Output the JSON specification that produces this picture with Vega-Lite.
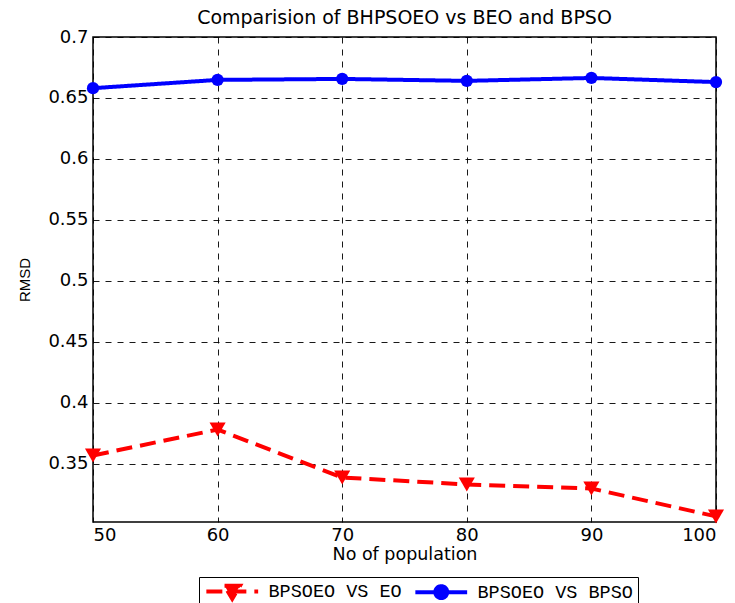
{
  "$schema": "https://vega.github.io/schema/vega-lite/v6.json",
  "width": 623,
  "height": 485,
  "autosize": {"type": "none"},
  "padding": {"left": 93, "top": 37, "right": 19, "bottom": 81},
  "background": "white",
  "title": {"text": "Comparision of BHPSOEO vs BEO and BPSO", "font": "DejaVu Sans", "fontSize": 19, "fontWeight": "normal", "color": "black", "offset": 0},
  "config": {
    "view": {"stroke": "black", "strokeWidth": 1.5},
    "axis": {
      "domain": false, "ticks": false,
      "grid": true, "gridColor": "black", "gridDash": [6, 6], "gridOpacity": 0.9, "gridWidth": 1,
      "labelFont": "DejaVu Sans", "labelFontSize": 18, "labelColor": "black",
      "titleFont": "DejaVu Sans", "titleFontWeight": "normal", "titleColor": "black"
    }
  },
  "data": {"values": [
    {"population": 50, "rmsd": 0.3566, "series": "BPSOEO VS EO"},
    {"population": 60, "rmsd": 0.3779, "series": "BPSOEO VS EO"},
    {"population": 70, "rmsd": 0.3385, "series": "BPSOEO VS EO"},
    {"population": 80, "rmsd": 0.3328, "series": "BPSOEO VS EO"},
    {"population": 90, "rmsd": 0.3295, "series": "BPSOEO VS EO"},
    {"population": 100, "rmsd": 0.3066, "series": "BPSOEO VS EO"},
    {"population": 50, "rmsd": 0.658, "series": "BPSOEO VS BPSO"},
    {"population": 60, "rmsd": 0.6648, "series": "BPSOEO VS BPSO"},
    {"population": 70, "rmsd": 0.6656, "series": "BPSOEO VS BPSO"},
    {"population": 80, "rmsd": 0.664, "series": "BPSOEO VS BPSO"},
    {"population": 90, "rmsd": 0.6664, "series": "BPSOEO VS BPSO"},
    {"population": 100, "rmsd": 0.663, "series": "BPSOEO VS BPSO"}
  ]},
  "encoding": {
    "x": {"field": "population", "type": "quantitative", "scale": {"domain": [50, 100], "nice": false, "zero": false},
      "axis": {"values": [50, 60, 70, 80, 90, 100], "title": "No of population", "titleFontSize": 17.5, "labelPadding": 4, "titlePadding": 1}},
    "y": {"field": "rmsd", "type": "quantitative", "scale": {"domain": [0.302, 0.7], "nice": false, "zero": false},
      "axis": {"values": [0.35, 0.4, 0.45, 0.5, 0.55, 0.6, 0.65, 0.7], "format": "~g", "title": "RMSD", "titleFont": "Liberation Sans", "titleFontSize": 15, "labelPadding": 5, "titlePadding": 15}},
    "color": {"field": "series", "type": "nominal",
      "scale": {"domain": ["BPSOEO VS EO", "BPSOEO VS BPSO"], "range": ["#ff0000", "#0000ff"]},
      "legend": {
        "title": null, "orient": "none", "legendX": 106, "legendY": 540, "direction": "horizontal",
        "strokeColor": "black", "padding": 5, "fillColor": "white",
        "labelFont": "Liberation Mono", "labelFontSize": 18.5, "labelColor": "black", "labelOffset": 27,
        "columnPadding": 5, "symbolSize": 196, "symbolOffset": 19, "symbolStrokeWidth": 4,
        "encode": {
          "symbols": {"update": {
            "shape": {"signal": "datum.value === 'BPSOEO VS EO' ? 'M-3.7,0L3.7,0M-1.1,-0.8L1.1,-0.8L0,1.05Z' : 'M-3.7,0L3.7,0M0.85,0A0.85,0.85 0 1,1 -0.85,0A0.85,0.85 0 1,1 0.85,0Z'"},
            "strokeDash": {"signal": "datum.value === 'BPSOEO VS EO' ? [16,5] : [1,0]"},
            "fill": {"scale": "color", "field": "value"},
            "stroke": {"scale": "color", "field": "value"},
            "opacity": {"value": 1}
          }}
        }
      }
    }
  },
  "layer": [
    {"mark": {"type": "line", "strokeWidth": 4},
      "encoding": {"strokeDash": {"field": "series", "type": "nominal", "scale": {"domain": ["BPSOEO VS EO", "BPSOEO VS BPSO"], "range": [[16, 8], [1, 0]]}, "legend": null}}},
    {"transform": [{"filter": "datum.series === 'BPSOEO VS EO'"}],
      "mark": {"type": "point", "filled": true, "opacity": 1, "shape": "triangle-down", "size": 260}},
    {"transform": [{"filter": "datum.series === 'BPSOEO VS BPSO'"}],
      "mark": {"type": "point", "filled": true, "opacity": 1, "shape": "circle", "size": 150}}
  ]
}
